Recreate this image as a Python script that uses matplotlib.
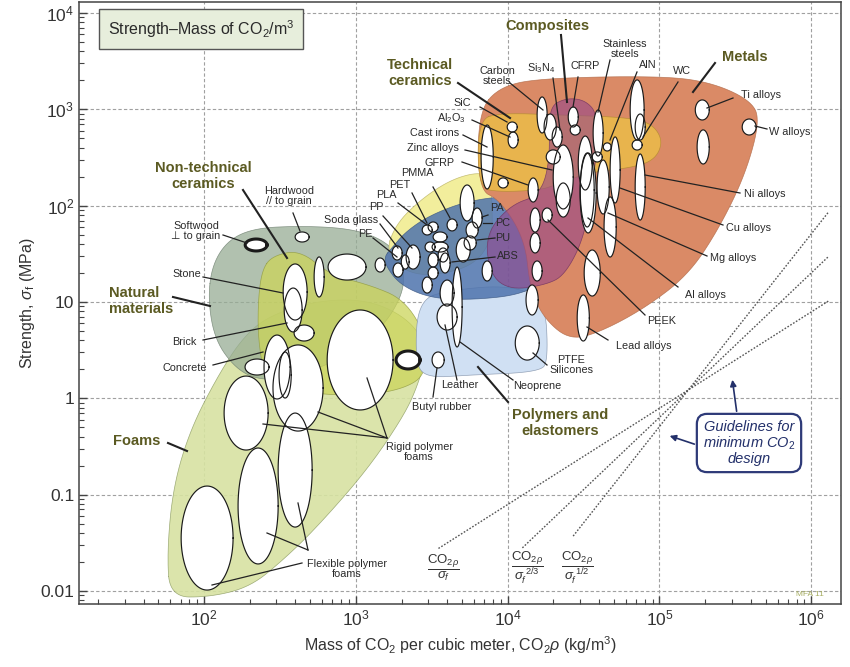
import numpy as np
import matplotlib
matplotlib.use("Agg")
import matplotlib.pyplot as plt

plt.rcParams['font.family'] = ['Liberation Sans', 'DejaVu Sans']
plt.rcParams['mathtext.fontset'] = 'custom'
plt.rcParams['mathtext.rm'] = 'Liberation Sans'
plt.rcParams['mathtext.it'] = 'Liberation Sans:italic'
plt.rcParams['mathtext.bf'] = 'Liberation Sans:bold'

# ---------------- data ----------------
x_limits = [15, 1.57e6]          # CO2 rho, kg/m3
y_limits = [0.0073, 13000]       # strength, MPa
x_ticks = [1e2, 1e3, 1e4, 1e5, 1e6]
x_tick_labels = ['$10^2$', '$10^3$', '$10^4$', '$10^5$', '$10^6$']
y_ticks = [0.01, 0.1, 1, 10, 1e2, 1e3, 1e4]
y_tick_labels = ['0.01', '0.1', '1', '10', '$10^2$', '$10^3$', '$10^4$']

# material bubbles: log10 centre and log10 half-range
bub_log_co2 = [2.020, 2.356, 2.600, 2.277, 2.619, 2.481, 2.534, 3.028, 2.349, 3.344,
               2.343, 2.646, 2.600, 2.587, 2.659, 2.758, 2.942, 3.160,
               3.733, 3.634, 3.799, 3.766, 3.753, 3.707, 3.470, 3.509, 3.555, 3.489,
               3.555, 3.575, 3.509, 3.377, 3.325, 3.278, 3.272, 3.509, 3.470, 3.588,
               3.667, 3.601, 3.601, 3.865, 3.542, 4.129, 4.181, 4.260, 4.181, 4.194, 4.161,
               3.865, 3.970, 4.168, 4.030, 4.036, 4.227, 4.280, 4.326, 4.300, 4.366, 4.366,
               4.432, 4.445, 4.511, 4.524, 4.596, 4.590, 4.629, 4.656, 4.708,
               4.853, 4.873, 4.853, 4.873, 5.282, 5.288, 5.591, 4.675, 4.530, 4.557, 4.498]
bub_log_str = [-1.452, -1.119, -0.746, -0.154, 0.106, 0.324, 0.241, 0.397, 0.324, 0.397,
               1.591, 1.674, 1.103, 0.916, 0.677, 1.259, 1.362, 1.383,
               2.027, 1.799, 1.871, 1.747, 1.612, 1.539, 1.747, 1.778, 1.674, 1.570,
               1.570, 1.487, 1.435, 1.466, 1.414, 1.331, 1.508, 1.300, 1.175, 1.404,
               0.947, 1.092, 0.843, 1.321, 0.397, 0.573, 1.850, 1.902, 1.612, 1.321, 1.020,
               2.505, 2.235, 2.162, 2.816, 2.681, 2.941, 2.816, 2.712, 2.505, 2.297, 2.058,
               2.920, 2.785, 2.442, 2.162, 2.754, 2.505, 2.193, 2.609, 2.370,
               2.993, 2.816, 2.629, 2.193, 2.993, 2.609, 2.816, 1.778, 2.131, 1.300, 0.833]
bub_half_co2 = [.171, .132, .112, .145, .165, .086, .040, .217, .079, .079,
                .072, .046, .079, .059, .066, .033, .125, .033,
                .046, .033, .033, .040, .040, .046, .033, .033, .046, .033,
                .053, .033, .033, .046, .026, .033, .033, .033, .033, .033,
                .033, .046, .066, .033, .040, .079, .033, .033, .033, .033, .040,
                .040, .033, .033, .033, .033, .033, .040, .033, .046, .066, .046,
                .033, .033, .046, .046, .033, .033, .040, .026, .033,
                .046, .033, .033, .033, .046, .040, .046, .040, .053, .053, .040]
bub_half_str = [.540, .602, .592, .384, .447, .332, .239, .519, .083, .093,
                .062, .052, .291, .228, .083, .208, .135, .073,
                .187, .062, .104, .083, .073, .125, .052, .052, .052, .052,
                .052, .073, .073, .125, .073, .073, .073, .062, .083, .104,
                .415, .135, .135, .104, .083, .177, .125, .073, .104, .104, .156,
                .332, .052, .125, .052, .083, .187, .135, .104, .073, .332, .177,
                .104, .052, .280, .384, .239, .052, .280, .042, .343,
                .312, .135, .052, .343, .104, .177, .083, .312, .415, .239, .239]
bub_heavy = [9, 10]  # indices of bubbles drawn with a heavy outline

# family envelopes (log10 CO2rho, log10 strength)
env_foams_x = [1.776, 1.756, 1.796, 1.908, 2.086, 2.257, 2.435, 2.764, 3.094, 3.358, 3.476,
               3.404, 3.311, 3.074, 2.745, 2.521, 2.303, 2.040]
env_foams_y = [-2.064, -1.607, -0.922, -0.330, 0.220, 0.636, 0.864, 1.020, 1.020, 0.812, 0.501,
               0.116, -0.195, -0.746, -1.337, -1.680, -1.960, -2.064]
env_natural_x = [2.026, 2.053, 2.158, 2.336, 2.633, 2.929, 3.127, 3.259, 3.325, 3.292,
                 3.160, 2.896, 2.567, 2.356, 2.204, 2.072]
env_natural_y = [1.020, 1.383, 1.643, 1.767, 1.788, 1.767, 1.684, 1.539, 1.279, 1.020,
                 0.708, 0.397, 0.210, 0.189, 0.314, 0.604]
env_nontech_x = [2.382, 2.448, 2.633, 2.830, 3.094, 3.325, 3.476, 3.456, 3.325, 3.094,
                 2.830, 2.567, 2.402, 2.356, 2.356]
env_nontech_y = [1.331, 1.477, 1.539, 1.279, 1.175, 1.020, 0.604, 0.241, 0.106, 0.033,
                 0.033, 0.085, 0.189, 0.604, 1.020]
env_glass_x = [3.193, 3.259, 3.423, 3.621, 3.806, 3.898, 3.898, 3.423]
env_glass_y = [1.487, 1.799, 2.058, 2.266, 2.349, 2.287, 1.435, 1.227]
env_elast_x = [3.410, 3.621, 4.016, 4.247, 4.267, 4.214, 3.753, 3.456, 3.390]
env_elast_y = [1.020, 1.124, 1.175, 1.020, 0.397, 0.272, 0.241, 0.210, 0.397]
env_polym_x = [3.193, 3.226, 3.325, 3.489, 3.753, 4.082, 4.267, 4.293, 4.247, 4.082,
               3.753, 3.489, 3.292, 3.193]
env_polym_y = [1.480, 1.539, 1.726, 1.902, 2.058, 2.110, 2.058, 1.643, 1.227, 1.072,
               1.020, 1.040, 1.175, 1.383]
env_metals_x = [3.806, 3.951, 4.247, 5.005, 5.334, 5.598, 5.664, 5.565, 5.387, 5.189,
                4.906, 4.610, 4.412, 4.247, 4.148, 4.115, 3.951, 3.806]
env_metals_y = [2.972, 3.242, 3.325, 3.346, 3.283, 3.097, 2.889, 2.318, 1.747, 1.279,
                0.937, 0.687, 0.604, 0.812, 1.124, 1.643, 2.058, 2.162]
env_techc_x = [3.806, 3.951, 4.346, 4.741, 4.939, 5.025, 4.972, 4.807, 4.544, 4.313,
               4.214, 3.951, 3.806]
env_techc_y = [2.889, 2.962, 2.941, 2.920, 2.868, 2.681, 2.474, 2.390, 2.349, 2.214,
               2.162, 2.141, 2.183]
env_comp_x = [4.267, 4.379, 4.511, 4.596, 4.577, 4.511, 4.379, 4.247, 4.016, 3.885,
              3.852, 4.016, 4.214, 4.280]
env_comp_y = [3.013, 3.117, 3.097, 2.941, 2.370, 1.695, 1.279, 1.175, 1.124, 1.279,
              1.695, 2.006, 2.110, 2.474]

# minimum-CO2 design guidelines: strength ~ CO2rho^slope through a common point
guide_slopes = [1.0, 1.5, 2.0]
guide_anchor_co2 = 1.55e5
guide_anchor_str = 1.22
guide_co2_start = [3.5e3, 1.25e4, 2.7e4]
guide_co2_end = 1.3e6

# ---------------- figure ----------------
fig = plt.figure(figsize=(8.5, 6.67), dpi=100)
ax = fig.add_axes([79 / 850, 63 / 667, 762 / 850, 602 / 667])
ax.set_xscale('log')
ax.set_yscale('log')
ax.set_xlim(*x_limits)
ax.set_ylim(*y_limits)
ax.set_axisbelow(True)
ax.grid(True, which='major', ls=(0, (3, 2)), lw=0.8, color='#a0a0a0')
ax.set_xticks(x_ticks)
ax.set_xticklabels(x_tick_labels, fontsize=12.5, color='#333333')
ax.set_yticks(y_ticks)
ax.set_yticklabels(y_tick_labels, fontsize=12.5, color='#333333')
ax.tick_params(which='major', direction='in', length=6, width=1, color='#444444')
ax.tick_params(which='minor', direction='in', length=3.5, width=0.8, color='#444444')
for s in ax.spines.values():
    s.set_color('#444444')
    s.set_linewidth(1.1)
ax.set_xlabel(r'Mass of CO$_2$ per cubic meter, CO$_2$$\rho$ (kg/m$^3$)', fontsize=11.5,
              color='#333333', labelpad=4)
ax.set_ylabel(r'Strength, $\sigma_\mathrm{f}$ (MPa)', fontsize=11.5, color='#333333', labelpad=2)


def smooth_closed(lx, ly, n=4):
    pts = np.column_stack([lx, ly]).astype(float)
    for _ in range(n):
        nxt = np.roll(pts, -1, axis=0)
        q = 0.75 * pts + 0.25 * nxt
        r = 0.25 * pts + 0.75 * nxt
        new = np.empty((2 * len(pts), 2))
        new[0::2] = q
        new[1::2] = r
        pts = new
    return 10 ** pts[:, 0], 10 ** pts[:, 1]


envelopes = [
    (env_foams_x, env_foams_y, '#d7e2a2', 0.9, '#8a9a60'),
    (env_natural_x, env_natural_y, '#97ad95', 0.75, '#6f8070'),
    (env_nontech_x, env_nontech_y, '#ccd55a', 0.75, '#909a40'),
    (env_glass_x, env_glass_y, '#f2ee9c', 1.0, '#b8b060'),
    (env_elast_x, env_elast_y, '#d0e0f3', 1.0, '#8090a8'),
    (env_polym_x, env_polym_y, '#4e73ad', 0.85, '#3a5680'),
    (env_metals_x, env_metals_y, '#da8a66', 1.0, '#b06a48'),
    (env_techc_x, env_techc_y, '#eabb4a', 0.88, '#b08a30'),
    (env_comp_x, env_comp_y, '#94448a', 0.6, '#703060'),
]
for i, (ex, ey, fc, al, ec) in enumerate(envelopes):
    sx, sy = smooth_closed(ex, ey)
    ax.fill(sx, sy, facecolor=fc, alpha=al, edgecolor='none', zorder=1 + i * 0.01)
    ax.plot(np.append(sx, sx[0]), np.append(sy, sy[0]), color=ec, lw=0.5, alpha=0.8,
            zorder=1 + i * 0.01)

# guidelines
for slope, x0 in zip(guide_slopes, guide_co2_start):
    xs = np.array([x0, guide_co2_end])
    ys = guide_anchor_str * (xs / guide_anchor_co2) ** slope
    ax.plot(xs, ys, ls=(0, (1.2, 1.2)), lw=1.0, color='#555555', zorder=1.5)

# bubbles
t = np.linspace(0, 2 * np.pi, 120)
order = np.argsort([-(a * b) for a, b in zip(bub_half_co2, bub_half_str)], kind='stable')
for k in order:
    ex = 10 ** (bub_log_co2[k] + bub_half_co2[k] * np.cos(t))
    ey = 10 ** (bub_log_str[k] + bub_half_str[k] * np.sin(t))
    ax.fill(ex, ey, facecolor='white', edgecolor='none', zorder=3)
for k in order:
    ex = 10 ** (bub_log_co2[k] + bub_half_co2[k] * np.cos(t))
    ey = 10 ** (bub_log_str[k] + bub_half_str[k] * np.sin(t))
    heavy = k in bub_heavy
    ax.plot(ex, ey, color='#1a1a1a', lw=2.2 if heavy else 0.85, zorder=4)


# ---------------- annotations (layout in axes fraction) ----------------
def af(px, py):
    return ((px - 79) / 762.0, (604 - py) / 602.0)


fam_color = '#5b5a22'
family_labels = [
    ("Non-technical\nceramics", (203, 176), 'center', [((243, 190), (287, 258))]),
    ("Natural\nmaterials", (141, 301), 'left', [((173, 297), (210, 306))]),
    ("Foams", (137, 441), 'center', [((168, 443), (187, 451))]),
    ("Technical\nceramics", (420, 73), 'center', [((458, 83), (510, 118))]),
    ("Composites", (547, 26), 'center', [((561, 35), (567, 102))]),
    ("Metals", (745, 57), 'center', [((715, 63), (693, 92))]),
    ("Polymers and\nelastomers", (560, 423), 'center', [((508, 402), (478, 367))]),
]
small_labels = [
    ("Hardwood\n// to grain", (289, 196), [((293, 213), (300, 231))]),
    ("Softwood\n\u22A5 to grain", (196, 231), [((223, 235), (247, 243))]),
    ("Stone", (187, 274), [((203, 277), (283, 293))]),
    ("Brick", (184, 342), [((203, 340), (287, 323))]),
    ("Concrete", (185, 368), [((213, 365), (263, 352))]),
    ("Rigid polymer\nfoams", (419, 452), [((387, 438), (263, 424)), ((387, 438), (318, 412)),
                                         ((387, 438), (367, 378))]),
    ("Flexible polymer\nfoams", (347, 569), [((302, 563), (212, 585)), ((308, 550), (267, 533)),
                                             ((308, 550), (298, 503))]),
    ("Butyl rubber", (442, 407), [((433, 397), (437, 368))]),
    ("Leather", (460, 385), [((457, 380), (445, 325))]),
    ("Neoprene", (537, 386), [((513, 380), (460, 342))]),
    ("PTFE\nSilicones", (571, 365), [((547, 365), (533, 353))]),
    ("Lead alloys", (644, 346), [((608, 340), (587, 327))]),
    ("PEEK", (662, 321), [((645, 315), (548, 220))]),
    ("Al alloys", (705, 295), [((678, 287), (588, 218))]),
    ("Mg alloys", (733, 258), [((707, 256), (608, 213))]),
    ("Cu alloys", (749, 228), [((723, 225), (620, 188))]),
    ("Ni alloys", (765, 194), [((740, 193), (645, 175))]),
    ("Ti alloys", (761, 95), [((733, 98), (707, 108))]),
    ("W alloys", (790, 132), [((767, 129), (755, 126))]),
    ("WC", (682, 71), [((678, 82), (643, 137))]),
    ("AlN", (648, 65), [((637, 72), (610, 140))]),
    ("Stainless\nsteels", (625, 49), [((610, 60), (598, 112))]),
    ("CFRP", (585, 66), [((578, 77), (573, 107))]),
    ("Si$_3$N$_4$", (541, 68), [((553, 78), (560, 130))]),
    ("Carbon\nsteels", (497, 76), [((510, 83), (543, 110))]),
    ("SiC", (462, 103), [((480, 107), (507, 122))]),
    ("Al$_2$O$_3$", (451, 118), [((472, 120), (510, 137))]),
    ("Cast irons", (435, 133), [((463, 135), (487, 147))]),
    ("Zinc alloys", (433, 148), [((465, 150), (552, 170))]),
    ("GFRP", (440, 163), [((462, 162), (528, 185))]),
    ("PMMA", (417, 173), [((433, 187), (450, 218))]),
    ("PET", (400, 185), [((412, 193), (427, 223))]),
    ("PLA", (386, 195), [((398, 203), (427, 225))]),
    ("PP", (376, 207), [((383, 216), (412, 248))]),
    ("Soda glass", (351, 220), [((380, 224), (398, 248))]),
    ("PE", (365, 234), [((373, 238), (397, 257))]),
    ("PA", (497, 208), [((488, 215), (482, 217))]),
    ("PC", (503, 223), [((492, 223), (483, 223))]),
    ("PU", (503, 238), [((495, 238), (477, 240))]),
    ("ABS", (508, 256), [((495, 257), (452, 262))]),
]

for text, (px, py), ma, leaders in family_labels:
    ax.text(*af(px, py), text, transform=ax.transAxes, ha='center', va='center',
            multialignment=ma, fontsize=10.5, fontweight='bold', color=fam_color,
            linespacing=1.15, zorder=7)
    for (x1, y1), (x2, y2) in leaders:
        a, b = af(x1, y1), af(x2, y2)
        ax.plot([a[0], b[0]], [a[1], b[1]], transform=ax.transAxes, color='#222222',
                lw=1.5, zorder=6)

for text, (px, py), leaders in small_labels:
    ax.text(*af(px, py), text, transform=ax.transAxes, ha='center', va='center',
            fontsize=7.8, color='#2a2a2a', linespacing=1.05, zorder=7)
    for (x1, y1), (x2, y2) in leaders:
        a, b = af(x1, y1), af(x2, y2)
        ax.plot([a[0], b[0]], [a[1], b[1]], transform=ax.transAxes, color='#222222',
                lw=0.9, zorder=6)

# title box
ax.text(*af(201, 29), 'Strength\u2013Mass of CO$_2$/m$^3$', transform=ax.transAxes,
        ha='center', va='center', fontsize=11.5, color='#2a2a2a', zorder=8,
        bbox=dict(boxstyle='square,pad=0.55', facecolor='#e7eedc', edgecolor='#555555', lw=1.0))

# guideline labels
guide_texts = [r'$\dfrac{\mathrm{CO}_{2\rho}}{\sigma_f}$',
               r'$\dfrac{\mathrm{CO}_{2\rho}}{\sigma_f^{\ 2/3}}$',
               r'$\dfrac{\mathrm{CO}_{2\rho}}{\sigma_f^{\ 1/2}}$']
for txt, px in zip(guide_texts, [443, 527, 577]):
    ax.text(*af(px, 568), txt, transform=ax.transAxes, ha='center', va='center',
            fontsize=9.5, color='#333333', zorder=7)

# guidelines box
ax.text(*af(749, 443), 'Guidelines for\nminimum CO$_2$\ndesign', transform=ax.transAxes,
        ha='center', va='center', fontsize=10.5, style='italic', color='#23306a',
        linespacing=1.05, zorder=8,
        bbox=dict(boxstyle='round,pad=0.4,rounding_size=0.7', facecolor='white',
                  edgecolor='#2e3a78', lw=1.6))
ax.annotate('', xy=af(667, 435), xytext=af(697, 445), xycoords='axes fraction',
            textcoords='axes fraction',
            arrowprops=dict(arrowstyle='-|>', color='#23306a', lw=1.2, mutation_scale=9),
            zorder=8)
ax.annotate('', xy=af(732, 377), xytext=af(737, 414), xycoords='axes fraction',
            textcoords='axes fraction',
            arrowprops=dict(arrowstyle='-|>', color='#23306a', lw=1.2, mutation_scale=9),
            zorder=8)

ax.text(*af(810, 595), 'MFA 11', transform=ax.transAxes, ha='center', va='center',
        fontsize=6, color='#a6ad62', zorder=7)

fig.savefig('out.png', dpi=100)
